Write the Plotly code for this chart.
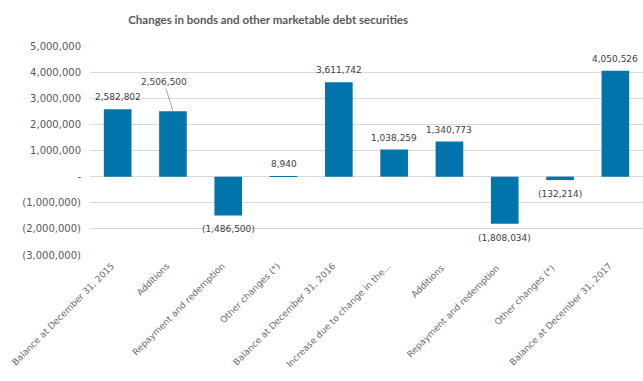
import plotly.graph_objects as go

# Movements in bonds and other marketable debt securities
categories = [
    "Balance at December 31, 2015",
    "Additions",
    "Repayment and redemption",
    "Other changes (*)",
    "Balance at December 31, 2016",
    "Increase due to change in the...",
    "Additions ",
    "Repayment and redemption ",
    "Other changes (*) ",
    "Balance at December 31, 2017",
]
values = [2582802, 2506500, -1486500, 8940, 3611742, 1038259, 1340773, -1808034, -132214, 4050526]

y_ticks = [5000000, 4000000, 3000000, 2000000, 1000000, 0, -1000000, -2000000, -3000000]


def acct(v):
    if v == 0:
        return "-"
    s = f"{abs(v):,}"
    return f"({s})" if v < 0 else s


BAR = "#0074ab"
GREY = "#595959"
LABEL = "#404040"
FONT = "DejaVu Sans"

fig = go.Figure(
    go.Bar(
        x=categories,
        y=values,
        marker=dict(color=BAR, line=dict(width=0)),
        width=0.5,
        cliponaxis=False,
    )
)

# value labels: above positive bars, below negative ones
for i, (cat, v) in enumerate(zip(categories, values)):
    if i == 1:
        # this one sits on a leader line to the left
        fig.add_annotation(
            x=cat, y=v, text=acct(v),
            showarrow=True, arrowhead=0, arrowwidth=1, arrowcolor="#a6a6a6",
            ax=-9, ay=-29,
            font=dict(family=FONT, size=9, color=LABEL),
        )
        continue
    fig.add_annotation(
        x=cat, y=v, text=acct(v), showarrow=False,
        xanchor="center", yanchor="middle",
        yshift=12 if v >= 0 else -14,
        font=dict(family=FONT, size=9, color=LABEL),
    )

fig.update_layout(
    width=643, height=381,
    margin=dict(l=90, r=0, t=46, b=126),
    paper_bgcolor="white", plot_bgcolor="white",
    showlegend=False,
    font=dict(family=FONT, size=10, color=GREY),
    title=dict(
        text="<b>Changes in bonds and other marketable debt securities</b>",
        x=0.417, xref="container", xanchor="center",
        y=0.948, yref="container", yanchor="middle",
        font=dict(family="Lato", size=11.5, color=GREY),
    ),
    bargap=0.5,
)

fig.update_yaxes(
    range=[-3000000, 5000000],
    tickvals=y_ticks,
    ticktext=[acct(v) for v in y_ticks],
    tickfont=dict(family=FONT, size=10, color=GREY),
    showgrid=True, gridcolor="#d9d9d9", gridwidth=1,
    zeroline=True, zerolinecolor="#d9d9d9", zerolinewidth=1,
    ticks="", ticklabelstandoff=8,
    showline=False,
)

fig.update_xaxes(
    tickangle=-45,
    tickfont=dict(family=FONT, size=9, color="#6b6b6b"),
    showgrid=False, showline=False, ticks="",
    ticklabelshift=-6, ticklabelstandoff=3,
)

fig.write_html("out.html")
